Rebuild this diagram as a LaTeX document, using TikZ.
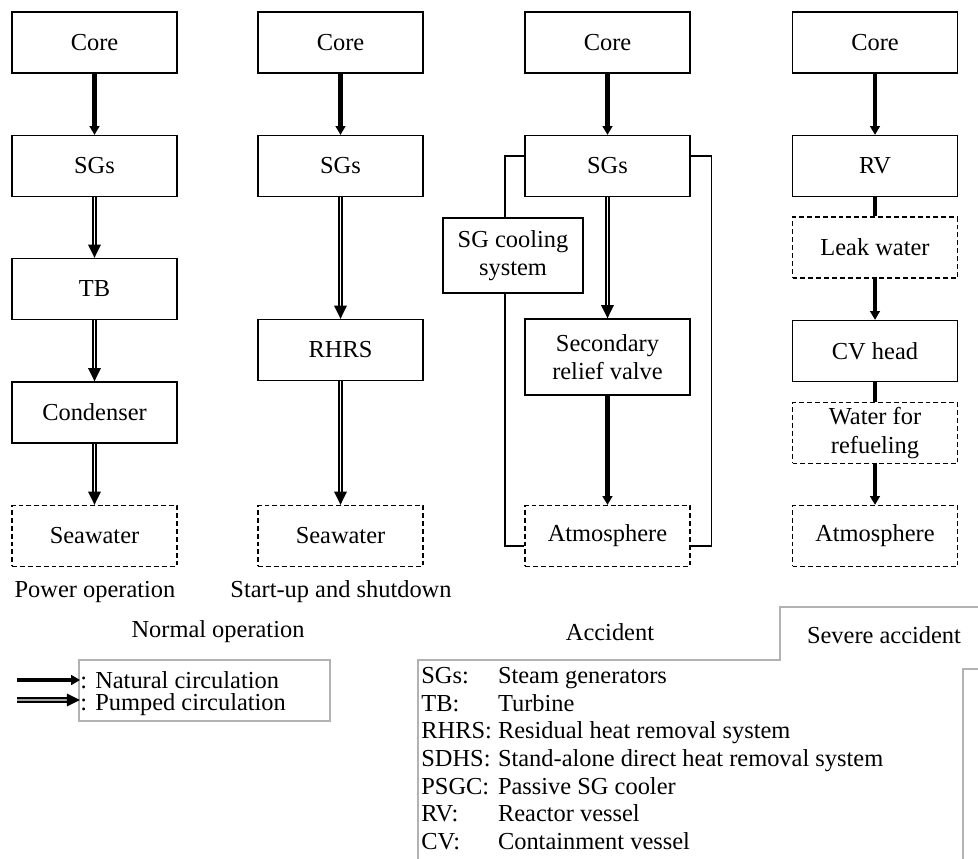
\documentclass[tikz,border=0pt]{standalone}
\usepackage{fontspec}
\setmainfont{Liberation Serif}
\usetikzlibrary{positioning,arrows.meta}
\tikzset{
    block/.style={
           rectangle,
           draw=black, line width=0.7pt,
           minimum width=3.3cm,
           minimum height=1.22cm,
           inner sep=2pt,
           align=center,
           font=\fontsize{13.9}{16}\selectfont,
           },
    openblock/.style={block, dash pattern=on 2.8pt off 1.7pt},
    natural/.style={line width=2.3pt, -{Triangle[length=5pt,width=5.5pt]}},
    pumped/.style={double, double distance=0.8pt, line width=1.3pt,
           -{Triangle[length=7.5pt,width=7pt]}},
    solidlink/.style={line width=2.3pt},
    wire/.style={line width=0.7pt},
    caption/.style={font=\fontsize{13.9}{16}\selectfont},
    frame/.style={draw=black!30, line width=0.6pt},
}

\begin{document}
\begin{tikzpicture}[x=0.02cm, y=-0.02cm]

 \useasboundingbox (0,0) rectangle (978,859);

 % normal operation: power operation
 \node[block] (core1) at (94.5,42.5) {Core};
 \node[block] (sg1) at (94.5,166) {SGs};
 \node[block] (tb1) at (94.5,289) {TB};
 \node[block] (cond1) at (94.5,412.5) {Condenser};
 \node[openblock] (sea1) at (94.5,536) {Seawater};
 \node[caption] (cap1) at (95,592) {Power operation};

 \draw[natural] (core1) -- (sg1);
 \draw[pumped] (sg1) -- (tb1);
 \draw[pumped] (tb1) -- (cond1);
 \draw[pumped] (cond1) -- (sea1);

 % normal operation: start-up and shutdown
 \node[block] (core2) at (340.5,42.5) {Core};
 \node[block] (sg2) at (340.5,166) {SGs};
 \node[block] (rhrs2) at (340.5,350) {RHRS};
 \node[openblock] (sea2) at (340.5,536) {Seawater};
 \node[caption] (cap2) at (341,592) {Start-up and shutdown};
 \node[caption] (normal) at (218,632) {Normal operation};

 \draw[natural] (core2) -- (sg2);
 \draw[pumped] (sg2) -- (rhrs2);
 \draw[pumped] (rhrs2) -- (sea2);

 % accident
 \node[block] (core3) at (607.5,42.5) {Core};
 \node[block] (sg3) at (607.5,166) {SGs};
 \node[block, minimum width=2.8cm, minimum height=1.5cm] (cool3) at (513,255.5)
 {SG cooling\\system};
 \node[block, minimum height=1.52cm] (relief3) at (607.5,357)
 {Secondary\\relief valve};
 \node[openblock] (atm3) at (607.5,536) {Atmosphere};
 \node[caption] (accident) at (610,632) {Accident};

 \draw[natural] (core3) -- (sg3);
 \draw[pumped] (sg3) -- (relief3);
 \draw[natural] (relief3) -- (atm3);
 \draw[wire] ([yshift=0.2cm]sg3.west) -| ([xshift=-0.16cm]cool3.north);
 \draw[wire] ([xshift=-0.16cm]cool3.south) |- ([yshift=-0.2cm]atm3.west);
 \draw[wire] ([yshift=0.2cm]sg3.east) -- ++(21,0) |- ([yshift=-0.2cm]atm3.east);

 % severe accident
 \node[block] (core4) at (875,42.5) {Core};
 \node[block] (rv4) at (875,166) {RV};
 \node[openblock] (leak4) at (875,247.5) {Leak water};
 \node[block] (head4) at (875,351) {CV head};
 \node[openblock] (pool4) at (875,433) {Water for\\refueling};
 \node[openblock] (atm4) at (875,536) {Atmosphere};
 \node[caption] (severe) at (884,635) {Severe accident};

 \draw[natural] (core4) -- (rv4);
 \draw[solidlink] (rv4) -- (leak4);
 \draw[natural] (leak4) -- (head4);
 \draw[solidlink] (head4) -- (pool4);
 \draw[natural] (pool4) -- (atm4);

 % legend
 \draw[frame] (79,660) rectangle (330,721);
 \coordinate (nat0) at (17,680);
 \coordinate (pmp0) at (17,700);
 \node[caption, anchor=west, inner sep=0pt] (natlbl) at (80,680) {: Natural circulation};
 \node[caption, anchor=west, inner sep=0pt] (pmplbl) at (80,705) {: Pumped circulation};
 \draw[natural] (nat0) -- (natlbl.west);
 \draw[pumped] (pmp0) -- ([yshift=0.1cm]pmplbl.west);

 % abbreviations
 \draw[frame] (418,859) -- (418,660) -- (780,660) -- (780,607) -- (978,607);
 \draw[frame] (963,859) -- (963,669) -- (978,669);
 \node[anchor=north west, inner sep=0pt, font=\fontsize{13.9}{15.7}\selectfont] (abbr) at (421,664)
 {\begin{tabular}{@{}l@{\ }l@{}}
 SGs: & Steam generators\\
 TB: & Turbine\\
 RHRS: & Residual heat removal system\\
 SDHS: & Stand-alone direct heat removal system\\
 PSGC: & Passive SG cooler\\
 RV: & Reactor vessel\\
 CV: & Containment vessel
 \end{tabular}};

\end{tikzpicture}
\end{document}
